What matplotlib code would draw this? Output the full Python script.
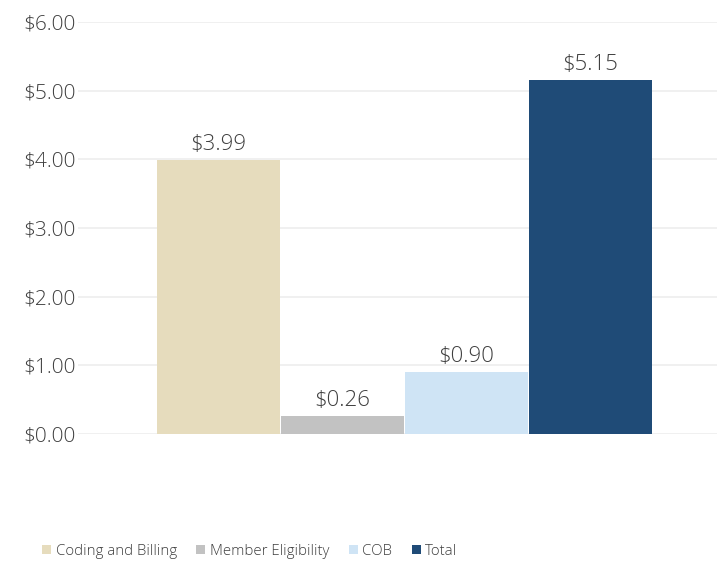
import matplotlib.pyplot as plt
from matplotlib.ticker import FuncFormatter

# cost per claim by category
categories = ['Coding and Billing', 'Member Eligibility', 'COB', 'Total']
values = [3.99, 0.26, 0.90, 5.15]
colors = ['#E6DCBD', '#C2C2C2', '#CFE4F5', '#1F4B77']
y_ticks = [0, 1, 2, 3, 4, 5, 6]

plt.rcParams['font.family'] = ['Open Sans', 'DejaVu Sans']
plt.rcParams['font.weight'] = 'light'
text_color = '#3F3F3F'

fig = plt.figure(figsize=(7.17, 5.61), dpi=100)
ax = fig.add_axes([0.109, 0.226, 0.891, 0.735])

for i, (cat, val, col) in enumerate(zip(categories, values, colors)):
    ax.bar(i, val, width=0.99, color=col, label=cat, zorder=2)
    ax.text(i, val + 0.08, f'${val:.2f}', ha='center', va='bottom',
            fontsize=16, color=text_color)

ax.set_xlim(-1.13, 4.02)
ax.set_ylim(0, 6)
ax.set_yticks(y_ticks)
ax.yaxis.set_major_formatter(FuncFormatter(lambda v, p: f'${v:.2f}'))
ax.set_xticks([])
ax.grid(axis='y', color='#EEEEEE', linewidth=1.2, zorder=0)
for s in ax.spines.values():
    s.set_visible(False)
ax.tick_params(axis='y', length=0, labelsize=15, labelcolor=text_color, pad=2)

fig.legend(loc='lower left', bbox_to_anchor=(0.04, -0.02), ncol=4, frameon=False,
           fontsize=10.8, handlelength=0.6, handleheight=0.6, handletextpad=0.3,
           columnspacing=1.3, labelcolor=text_color)

fig.savefig('out.png', dpi=100)
